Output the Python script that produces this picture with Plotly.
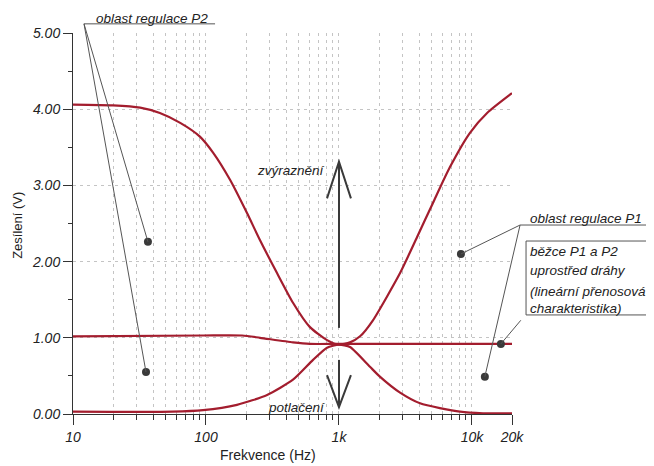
import math
import plotly.graph_objects as go

# frequency response curves (Hz, V)
freq_boost = [10, 20, 32, 45, 64, 90, 113, 152, 203, 255, 342, 451, 605, 813, 1000,
              1210, 1440, 1800, 2880, 3860, 5090, 6830, 9660, 13000, 20000]
gain_boost = [4.06, 4.05, 4.02, 3.95, 3.82, 3.64, 3.43, 3.07, 2.64, 2.28, 1.85, 1.46, 1.14, 0.97, 0.91,
              0.94, 1.02, 1.23, 1.85, 2.32, 2.77, 3.24, 3.69, 3.95, 4.21]

freq_cut = [10, 56, 95, 171, 288, 451, 638, 813, 1000, 1210, 1710, 2030, 2880, 4070, 8130, 12100, 20000]
gain_cut = [0.03, 0.03, 0.05, 0.12, 0.25, 0.45, 0.71, 0.87, 0.91, 0.88, 0.62, 0.49, 0.28, 0.14, 0.03, 0.01, 0.01]

freq_flat = [10, 95, 187, 255, 451, 605, 1000, 3000, 20000]
gain_flat = [1.02, 1.03, 1.03, 1.00, 0.94, 0.92, 0.92, 0.92, 0.92]

x_tickvals = [10, 100, 1000, 10000, 20000]
x_ticktext = ["10", "100", "1k", "10k", "20k"]
x_minor = [20, 30, 40, 50, 60, 70, 80, 90, 200, 300, 400, 500, 600, 700, 800, 900,
           2000, 3000, 4000, 5000, 6000, 7000, 8000, 9000]

# annotation dots (freq, gain)
dot_freq = [36.6, 35.4, 8260, 12500, 16500]
dot_gain = [2.26, 0.55, 2.10, 0.49, 0.92]

F_MIN, F_MAX = 10, 20000
G_MAX = 5

RED = "#a31d2e"
INK = "#3a3a3a"


def px(f):
    return (math.log10(f) - math.log10(F_MIN)) / (math.log10(F_MAX) - math.log10(F_MIN))


def py(v):
    return v / G_MAX


def seg(f0, v0, f1, v1, width=1, color="#555"):
    return dict(type="line", xref="paper", yref="paper",
                x0=px(f0), y0=py(v0), x1=px(f1), y1=py(v1),
                line=dict(color=color, width=width))


def path(points, width=2):
    d = "M " + " L ".join(f"{px(f)},{py(v)}" for f, v in points)
    return dict(type="path", xref="paper", yref="paper", path=d,
                line=dict(color=INK, width=width))


fig = go.Figure()

for fx, gy in [(freq_boost, gain_boost), (freq_cut, gain_cut), (freq_flat, gain_flat)]:
    fig.add_trace(go.Scatter(
        x=fx, y=gy, mode="lines",
        line=dict(color=RED, width=2.2, shape="spline", smoothing=0.6),
        showlegend=False, hoverinfo="skip"
    ))

fig.add_trace(go.Scatter(
    x=dot_freq, y=dot_gain, mode="markers",
    marker=dict(color=INK, size=8),
    cliponaxis=False, showlegend=False, hoverinfo="skip"
))

shapes = [
    # P2 callout
    seg(12.1, 5.12, 117, 5.12),
    seg(12.1, 5.12, 36.6, 2.26),
    seg(12.1, 5.12, 35.4, 0.55),
    # P1 callout
    seg(23000, 2.48, 233000, 2.48),
    seg(23000, 2.48, 8260, 2.10),
    seg(23000, 2.48, 12500, 0.49),
    # box + pointer
    dict(type="rect", xref="paper", yref="paper",
         x0=px(25500), x1=px(228000), y0=py(1.30), y1=py(2.27),
         line=dict(color="#555", width=1)),
    seg(23300, 1.23, 16500, 0.92),
    # up arrow
    path([(1000, 1.13), (1000, 3.31)]),
    path([(813, 2.83), (1000, 3.31), (1230, 2.83)]),
    # down arrow
    path([(1000, 0.71), (1000, 0.09)]),
    path([(813, 0.51), (1000, 0.09), (1230, 0.51)]),
]

big = dict(family="Liberation Sans", size=13.5, color="#222", style="italic")
small = dict(family="Liberation Sans", size=13.5, color="#222", style="italic")

annotations = [
    dict(text="oblast regulace P2", x=px(39.3), y=py(5.19), xanchor="center", yanchor="middle", font=big),
    dict(text="oblast regulace P1", x=px(26400), y=py(2.565), xanchor="left", yanchor="middle", font=big),
    dict(text="běžce P1 a P2", x=px(26400), y=py(2.126), xanchor="left", yanchor="middle", font=big),
    dict(text="uprostřed dráhy", x=px(26400), y=py(1.877), xanchor="left", yanchor="middle", font=big),
    dict(text="(lineární přenosová", x=px(26400), y=py(1.614), xanchor="left", yanchor="middle", font=big),
    dict(text="charakteristika)", x=px(26400), y=py(1.391), xanchor="left", yanchor="middle", font=big),
    dict(text="zvýraznění", x=px(813), y=py(3.20), xanchor="right", yanchor="middle", font=small),
    dict(text="potlačení", x=px(813), y=py(0.08), xanchor="right", yanchor="middle", font=small),
]
for a in annotations:
    a.update(xref="paper", yref="paper", showarrow=False)

# axis titles placed like the original (not centred on the plot)
annotations += [
    dict(text="Frekvence (Hz)", xref="paper", yref="paper", x=0.444, y=-0.108,
         xanchor="center", yanchor="middle", showarrow=False,
         font=dict(family="Liberation Sans", size=14, color="#222")),
    dict(text="Zesílení (V)", xref="paper", yref="paper", x=-0.128, y=0.496,
         xanchor="center", yanchor="middle", showarrow=False, textangle=-90,
         font=dict(family="Liberation Sans", size=13, color="#222")),
]

# page body has an 8px margin, so the figure is 8px smaller and margins shifted
fig.update_layout(
    width=646, height=458,
    margin=dict(l=65, r=142, t=25, b=52),
    paper_bgcolor="white", plot_bgcolor="white",
    font=dict(family="Liberation Sans", color="#222"),
    shapes=shapes,
    annotations=annotations,
)

fig.update_xaxes(
    type="log", range=[math.log10(F_MIN), math.log10(F_MAX)],
    tickmode="array", tickvals=x_tickvals, ticktext=x_ticktext,
    ticks="outside", ticklen=10, tickcolor="#333",
    tickfont=dict(size=14, style="italic"),
    showline=True, linecolor="#333", linewidth=1,
    showgrid=True, gridcolor="#c4c4c4", griddash="3px,4px", gridwidth=1,
    minor=dict(tickvals=x_minor, ticks="outside", ticklen=5, tickcolor="#333",
               showgrid=True, gridcolor="#c4c4c4", griddash="3px,4px"),
    zeroline=False, automargin=False,
)

fig.update_yaxes(
    range=[0, G_MAX], dtick=1, tickformat=".2f",
    ticks="outside", ticklen=9, tickcolor="#333",
    tickfont=dict(size=14, style="italic"),
    showline=True, linecolor="#333", linewidth=1,
    showgrid=True, gridcolor="#c4c4c4", griddash="3px,4px", gridwidth=1,
    minor=dict(dtick=0.5, ticks="outside", ticklen=4, tickcolor="#333"),
    zeroline=False, automargin=False,
)

fig.write_html("out.html")
